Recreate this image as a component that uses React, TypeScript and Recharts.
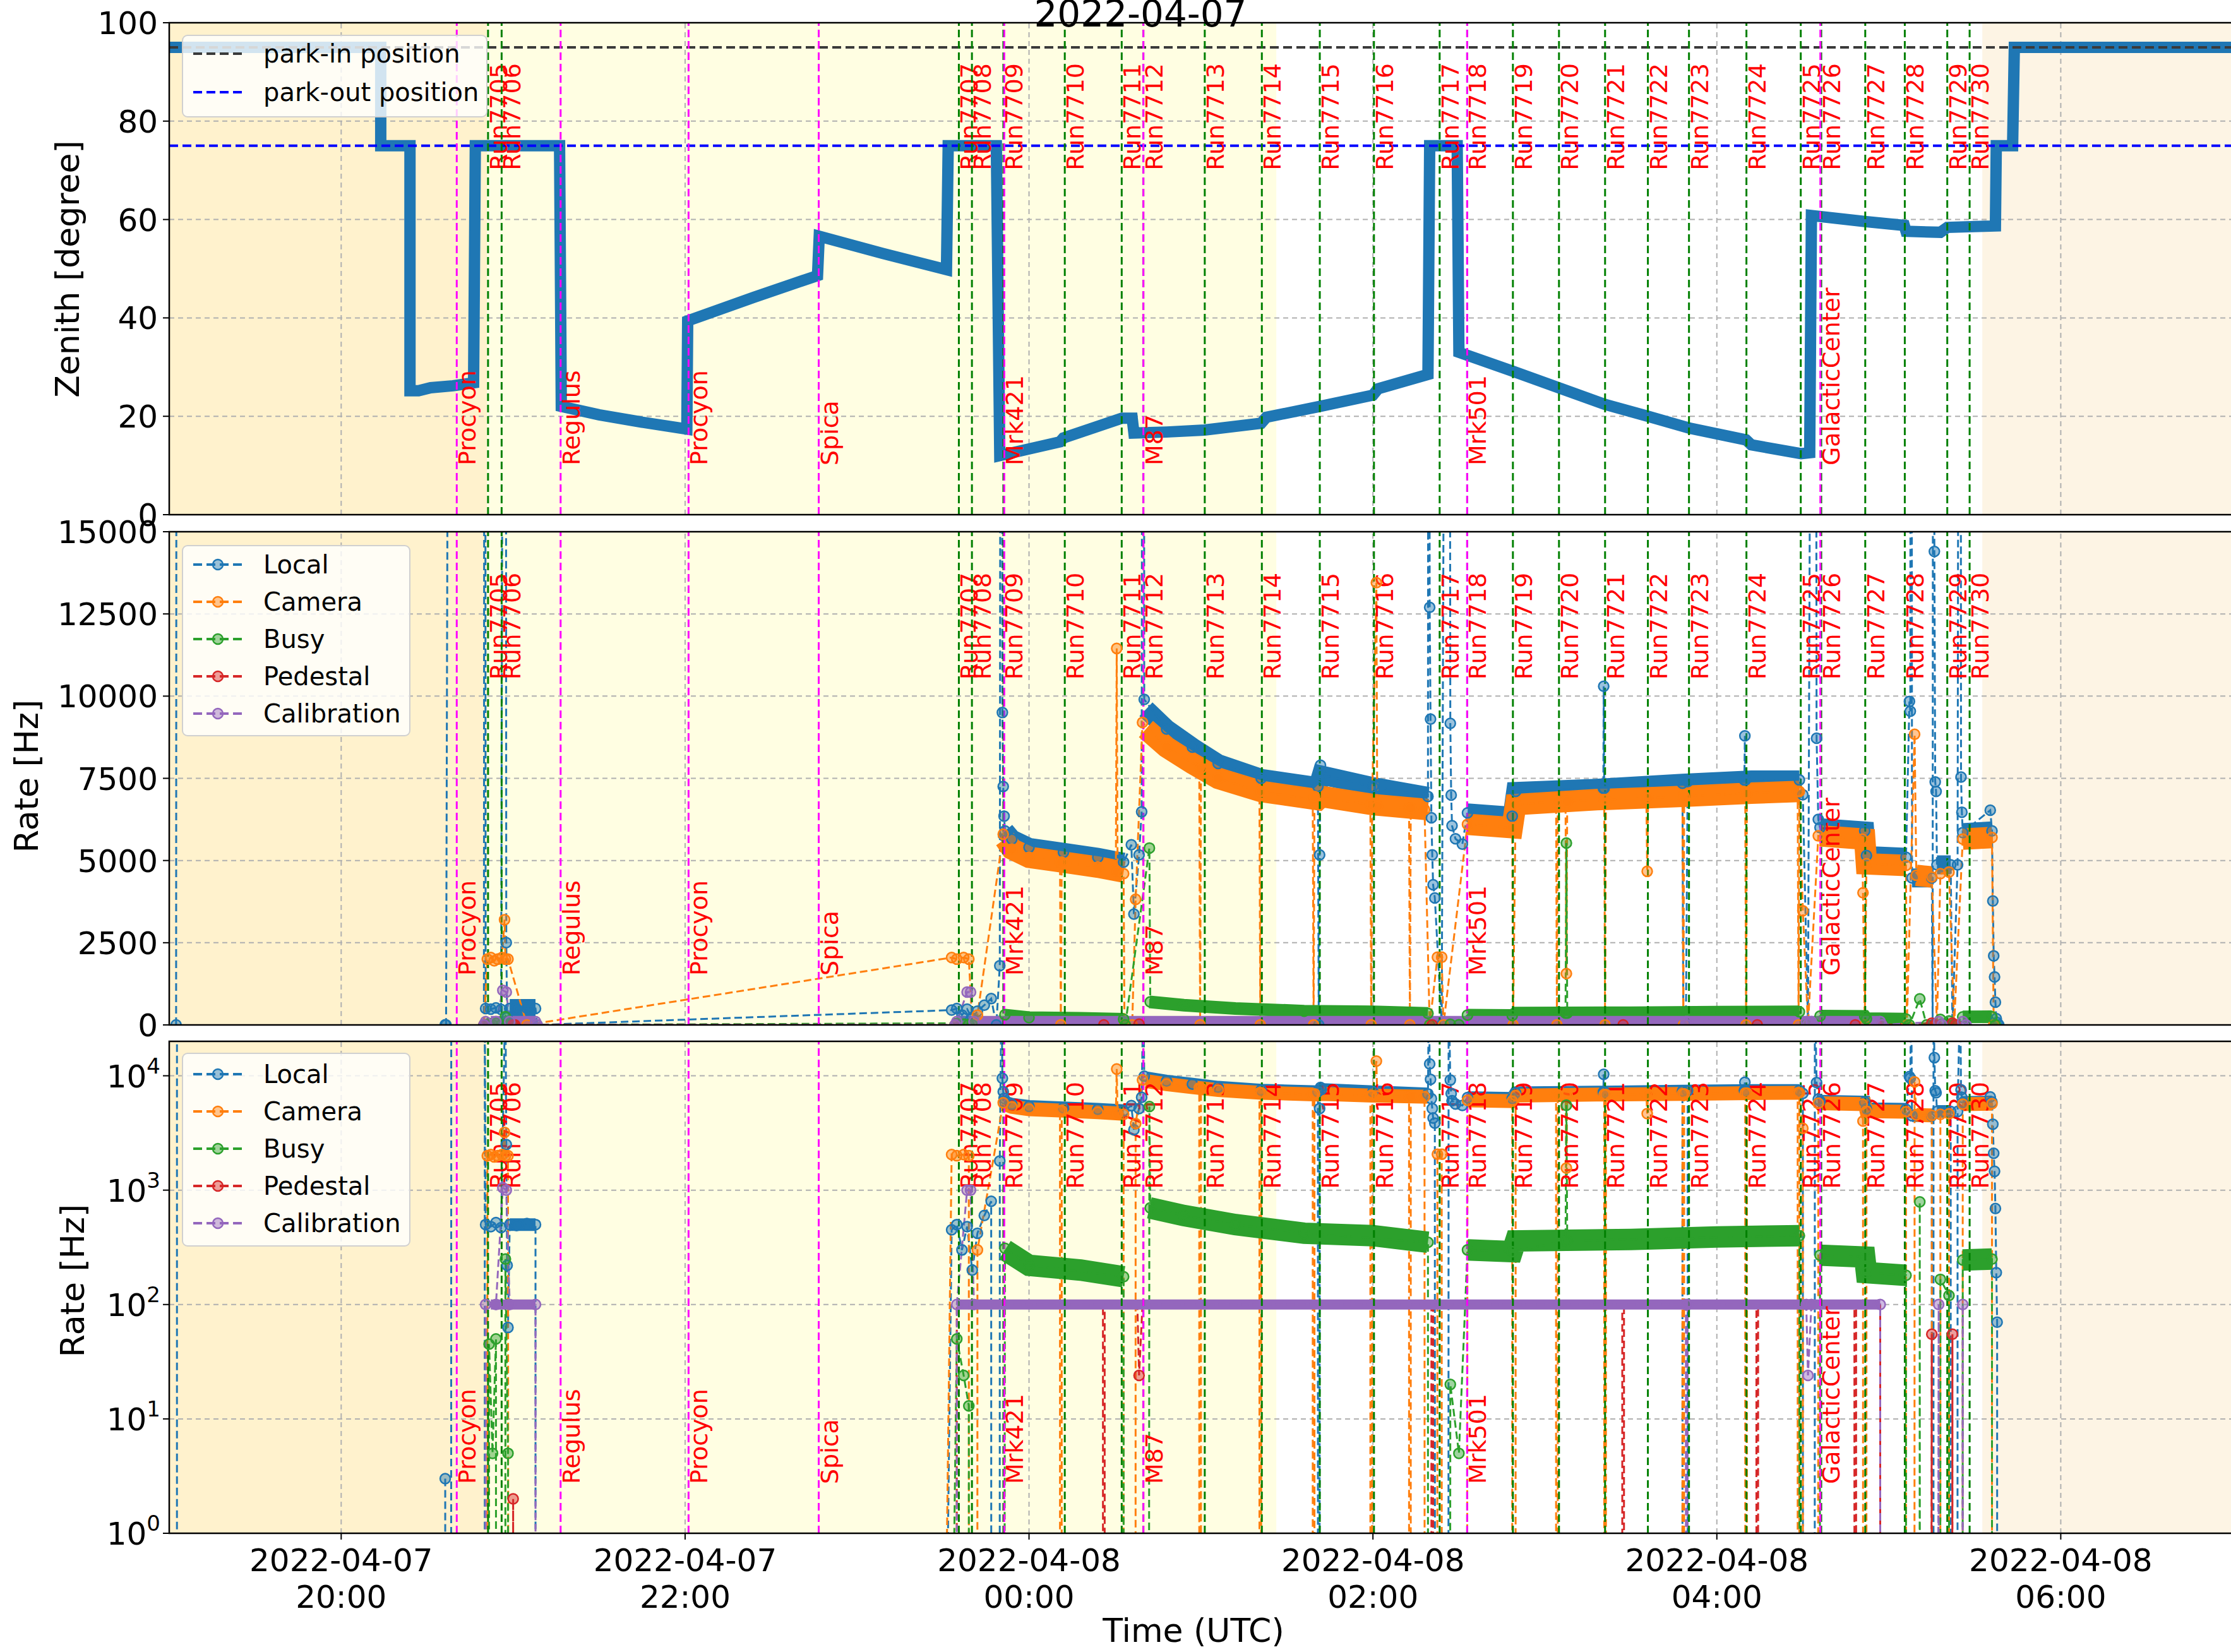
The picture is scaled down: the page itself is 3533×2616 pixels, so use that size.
import React from 'react';
import {
  LineChart,
  Line,
  XAxis,
  YAxis,
  ReferenceLine,
  ReferenceArea,
} from 'recharts';

// time is in hours relative to 2022-04-08 00:00 UTC
type Pt = [number, number | null];

const W = 3533;
const H = 2616;
const AXIS_W = 268;
const FONT = '"DejaVu Sans", sans-serif';

const X_DOMAIN: [number, number] = [-5.0, 6.99];
const TIME_TICKS = [-4, -2, 0, 2, 4, 6];

const SKY_ZONES = [
  { from: -5.0, to: -3.151, color: '#FFF2CD' },
  { from: -3.151, to: 1.438, color: '#FFFEE2' },
  { from: 5.544, to: 7.0, color: '#FDF4E4' },
];

const RUN_NAMES = [
  'Run7705', 'Run7706', 'Run7707', 'Run7708', 'Run7709', 'Run7710', 'Run7711', 'Run7712', 'Run7713',
  'Run7714', 'Run7715', 'Run7716', 'Run7717', 'Run7718', 'Run7719', 'Run7720', 'Run7721', 'Run7722',
  'Run7723', 'Run7724', 'Run7725', 'Run7726', 'Run7727', 'Run7728', 'Run7729', 'Run7730',
];
const RUN_TIMES = [
  -3.146, -3.067, -0.408, -0.332, -0.149, 0.208, 0.539, 0.665, 1.022,
  1.354, 1.691, 2.006, 2.388, 2.548, 2.814, 3.082, 3.35, 3.599,
  3.838, 4.172, 4.488, 4.607, 4.863, 5.093, 5.34, 5.47,
];

const SOURCE_NAMES = ['Procyon', 'Regulus', 'Procyon', 'Spica', 'Mrk421', 'M87', 'Mrk501', 'GalacticCenter'];
const SOURCE_TIMES = [-3.328, -2.724, -1.98, -1.223, -0.144, 0.665, 2.548, 4.602];

const PARK_IN = 95;
const PARK_OUT = 75;

const ZENITH_TICKS = [0, 20, 40, 60, 80, 100];
const RATE_TICKS = [0, 2500, 5000, 7500, 10000, 12500, 15000];
const LOG_TICKS = [1, 10, 100, 1000, 10000];

const zenith: Pt[] = [
  [-5.0, 95], [-3.77, 95], [-3.77, 75], [-3.6, 75], [-3.6, 25.2], [-3.55, 25.2], [-3.48, 25.8], [-3.35, 26.2], [-3.23, 26.8],
  [-3.22, 75], [-2.73, 75], [-2.72, 22], [-2.5, 20.3], [-2.25, 18.8], [-1.99, 17.4],
  [-1.985, 39.4], [-1.6, 44.2], [-1.23, 48.6],
  [-1.22, 56.6], [-0.85, 53.1], [-0.48, 49.8],
  [-0.47, 75], [-0.19, 75], [-0.17, 12], [0.18, 14.8], [0.2, 15.6], [0.54, 19.6], [0.6, 19.6],
  [0.61, 16.6], [0.8, 16.8], [1.02, 17.2], [1.35, 18.6], [1.38, 19.8], [1.69, 22.0], [2.0, 24.3], [2.03, 25.6], [2.32, 28.5],
  [2.33, 75], [2.49, 75], [2.5, 33], [2.81, 29.2], [3.08, 25.8], [3.35, 22.4], [3.6, 20.0], [3.84, 17.6], [4.17, 15.2], [4.2, 14.2], [4.49, 12.4], [4.54, 12.6],
  [4.55, 60.8], [4.86, 59.6], [5.09, 58.8], [5.1, 57.6], [5.3, 57.4], [5.34, 58.4], [5.62, 58.7],
  [5.625, 75], [5.72, 75], [5.73, 95], [7.0, 95],
];

const local: Pt[] = [
  [-4.96, 0], [-4.955, 60000], [-4.95, null],
  [-3.395, 3], [-3.39, 0], [-3.36, 60000], [-3.35, null],
  [-3.17, 0], [-3.165, 60000], [-3.16, 500], [-3.13, 480], [-3.1, 520], [-3.07, 470], [-3.045, 60000], [-3.04, 2500],
  [-3.035, 220], [-3.03, 63], [-3.02, 500], [-2.98, 490], [-2.92, 510], [-2.87, 500], [-2.86, 0],
  [-0.45, 450], [-0.42, 500], [-0.39, 300], [-0.36, 480], [-0.33, 200], [-0.3, 420], [-0.26, 600], [-0.22, 800], [-0.19, 0],
  [-0.17, 1800], [-0.16, 60000], [-0.155, 9500], [-0.15, 7250], [-0.145, 6350], [-0.14, 5900],
  [-0.1, 5650], [0.0, 5400], [0.2, 5250], [0.4, 5100],
  [0.55, 4950], [0.595, 5480], [0.61, 3370], [0.64, 5170], [0.655, 6480], [0.665, 60000], [0.67, 9900],
  [0.8, 9000], [0.95, 8450], [1.1, 7950], [1.35, 7500],
  [1.68, 7250], [1.685, 0], [1.69, 5170], [1.695, 7900], [1.7, 7600], [2.0, 7250],
  [2.32, 6950], [2.325, 60000], [2.33, 12700], [2.335, 9300], [2.34, 6300], [2.345, 5170], [2.35, 4265], [2.36, 3860], [2.4, 0],
  [2.44, 60000], [2.45, 9170], [2.455, 6990], [2.46, 6060], [2.48, 5660], [2.52, 5500], [2.55, 6450],
  [2.81, 6350], [2.83, 7100], [3.34, 7200], [3.342, 10300], [3.345, 7200], [3.8, 7350], [3.805, 0], [3.82, 0], [3.83, 7400],
  [4.16, 7450], [4.163, 8790], [4.166, 7450], [4.48, 7450], [4.5, 7000], [4.53, 0], [4.57, 60000], [4.58, 8720], [4.59, 6250], [4.6, 6000],
  [4.86, 5900], [4.87, 5150], [5.1, 5100], [5.12, 9840], [5.125, 9540], [5.13, 60000], [5.135, 4470], [5.25, 4470], [5.255, 0],
  [5.26, 60000], [5.265, 14400], [5.27, 7390], [5.275, 7100], [5.28, 4870], [5.36, 4870], [5.37, 0], [5.4, 4870], [5.415, 60000],
  [5.42, 7540], [5.425, 6470], [5.43, 5850], [5.59, 6530], [5.6, 5900], [5.605, 3770], [5.61, 2100], [5.615, 1460], [5.62, 690],
  [5.625, 190], [5.63, 70], [5.64, 0],
];

const camera: Pt[] = [
  [-3.17, 0], [-3.15, 2000], [-3.13, 2050], [-3.11, 1950], [-3.09, 2000], [-3.065, 2050], [-3.05, 3200], [-3.045, 2000], [-3.03, 2000], [-2.92, 0],
  [-0.45, 2050], [-0.42, 2000], [-0.38, 2050], [-0.35, 2000], [-0.33, 0], [-0.3, 300], [-0.15, 5800],
  [-0.1, 5350], [0.0, 5100],
  [0.18, 4950], [0.185, 0], [0.19, 4950], [0.4, 4800], [0.505, 4700], [0.51, 11450], [0.515, 4650], [0.55, 4600], [0.555, 0], [0.6, 0], [0.62, 3820], [0.66, 9200],
  [0.8, 8450], [0.99, 7830], [0.995, 0], [1.0, 7800], [1.1, 7500], [1.34, 7100], [1.345, 0], [1.35, 7100], [1.65, 6850], [1.655, 0], [1.66, 6950],
  [1.985, 6700], [1.99, 0], [1.995, 6700], [2.02, 13450], [2.025, 6650], [2.21, 6600], [2.215, 0], [2.22, 6600], [2.3, 6550],
  [2.33, 0], [2.375, 2060], [2.4, 2060], [2.41, 0], [2.55, 6100],
  [2.81, 6000], [2.815, 0], [2.83, 6700], [3.065, 6800], [3.07, 0], [3.075, 6800], [3.12, 6800], [3.125, 1560], [3.13, 6800],
  [3.345, 6850], [3.35, 0], [3.355, 6850], [3.59, 6900], [3.595, 4670], [3.6, 6900], [3.8, 6950], [3.805, 0], [3.81, 6950],
  [4.165, 7050], [4.17, 0], [4.175, 7050], [4.47, 7100], [4.475, 0], [4.48, 7100], [4.5, 3470], [4.53, 0],
  [4.59, 5750], [4.845, 5650], [4.85, 4020], [4.86, 0], [4.87, 4900], [5.1, 4850], [5.105, 0], [5.15, 8840], [5.16, 4550],
  [5.25, 4500], [5.28, 0], [5.3, 4600], [5.35, 4650], [5.38, 0], [5.43, 5650], [5.6, 5700], [5.61, 0],
];

const busy: Pt[] = [
  [-3.17, 0], [-3.14, 45], [-3.12, 5], [-3.1, 50], [-3.07, 0], [-3.045, 250], [-3.03, 5], [-3.0, 0],
  [-0.42, 50], [-0.38, 24], [-0.35, 13], [-0.33, 0],
  [-0.14, 310], [0.0, 220], [0.55, 175], [0.56, 0], [0.7, 5380], [0.705, 700], [0.9, 600], [1.2, 500], [1.6, 420],
  [2.32, 350], [2.33, 0], [2.45, 20], [2.5, 5], [2.55, 300],
  [2.81, 290], [3.12, 360], [3.125, 5530], [3.13, 360], [4.48, 400], [4.52, 0],
  [4.6, 270], [4.86, 260], [4.87, 190], [5.1, 180], [5.12, 0], [5.18, 790], [5.22, 0], [5.3, 166], [5.35, 120], [5.38, 0],
  [5.43, 245], [5.6, 250], [5.62, 0],
];

const pedestal: Pt[] = [
  [-3.17, 0], [-3.0, 2], [-2.99, 0],
  [-0.43, 0], [-0.42, 100], [0.43, 100], [0.435, 0], [0.44, 100], [0.63, 100], [0.64, 24], [0.66, 100],
  [2.34, 100], [2.345, 0], [2.35, 100], [3.45, 100], [3.455, 0], [3.46, 100], [4.23, 100], [4.235, 0], [4.24, 100],
  [4.8, 100], [4.805, 0], [4.81, 100], [4.95, 100], [4.96, 0],
  [5.25, 55], [5.27, 0], [5.37, 55], [5.39, 0],
];

const calibration: Pt[] = [
  [-3.17, 0], [-3.16, 100], [-3.1, 100], [-3.06, 1050], [-3.04, 1000], [-3.02, 100], [-2.87, 100], [-2.86, 0],
  [-0.43, 0], [-0.42, 100], [-0.36, 1000], [-0.34, 1000], [-0.32, 100], [3.82, 100], [3.825, 0], [3.83, 100],
  [4.52, 100], [4.53, 24], [4.55, 100], [4.95, 100], [4.96, 0],
  [5.29, 100], [5.31, 0], [5.43, 100], [5.45, 0],
];

// dense stretches where the markers merge into a thick band
const localBand: Pt[] = [
  [-3.02, 500], [-2.87, 500], [-2.86, null],
  [-0.14, 5900], [-0.1, 5650], [0.0, 5400], [0.2, 5250], [0.4, 5100], [0.55, 4950], [0.56, null],
  [0.68, 9600], [0.8, 9000], [0.95, 8450], [1.1, 7950], [1.35, 7500], [1.68, 7250], [1.7, 7600], [2.0, 7250], [2.32, 6950], [2.33, null],
  [2.55, 6450], [2.81, 6350], [2.83, 7100], [3.3, 7200], [3.8, 7350], [4.2, 7450], [4.48, 7450], [4.49, null],
  [4.6, 6000], [4.86, 5900], [4.87, 5150], [5.1, 5100], [5.11, null], [5.135, 4470], [5.25, 4470], [5.26, null],
  [5.28, 4870], [5.36, 4870], [5.37, null], [5.43, 5850], [5.6, 5900],
];

const cameraBand: Pt[] = [
  [-0.14, 5650], [-0.1, 5350], [0.0, 5100], [0.2, 4950], [0.4, 4800], [0.55, 4650], [0.56, null],
  [0.68, 9000], [0.8, 8450], [0.95, 7950], [1.1, 7500], [1.35, 7100], [1.68, 6850], [1.7, 6950], [2.0, 6700], [2.32, 6550], [2.33, null],
  [2.55, 6100], [2.81, 6000], [2.83, 6700], [3.3, 6850], [3.8, 6950], [4.2, 7050], [4.48, 7100], [4.49, null],
  [4.6, 5750], [4.86, 5650], [4.87, 4900], [5.1, 4850], [5.11, null], [5.16, 4550], [5.25, 4500], [5.26, null],
  [5.43, 5650], [5.6, 5700],
];

const busyBand: Pt[] = [
  [-0.14, 300], [0.0, 220], [0.3, 200], [0.55, 175], [0.56, null],
  [0.7, 700], [0.9, 600], [1.2, 500], [1.6, 420], [2.0, 400], [2.32, 350], [2.33, null],
  [2.55, 300], [2.81, 290], [2.83, 360], [3.5, 370], [4.0, 390], [4.48, 400], [4.49, null],
  [4.6, 270], [4.86, 260], [4.87, 190], [5.1, 180], [5.11, null],
  [5.43, 245], [5.6, 250],
];

const calibBand: Pt[] = [
  [-3.13, 100], [-2.87, 100], [-2.86, null],
  [-0.42, 100], [4.95, 100],
];

// pedestal markers sitting on the calibration level are hidden under it in the original
const PEDESTAL_HIDDEN_LEVEL = 100;

const RATE_SERIES = [
  { name: 'Local', color: '#1f77b4', pts: local, band: localBand, wLin: 30, wLog: 20 },
  { name: 'Camera', color: '#ff7f0e', pts: camera, band: cameraBand, wLin: 34, wLog: 22 },
  { name: 'Busy', color: '#2ca02c', pts: busy, band: busyBand, wLin: 20, wLog: 34 },
  { name: 'Pedestal', color: '#d62728', pts: pedestal, band: null as Pt[] | null, wLin: 0, wLog: 0 },
  { name: 'Calibration', color: '#9467bd', pts: calibration, band: calibBand, wLin: 18, wLog: 16 },
];

const toRows = (pts: Pt[], log = false) =>
  pts.map(([t, v]) => ({ t, v: v === null ? null : log && v <= 0 ? 1e-300 : v }));

const GRID = '#b0b0b0';

const VLabel = (props: any) => {
  const { viewBox, text, frac } = props;
  if (!viewBox) return null;
  const x = viewBox.x + 30;
  const y = viewBox.y + viewBox.height * (1 - frac);
  return (
    <text x={x} y={y} transform={`rotate(-90 ${x} ${y})`} fill="#ff0000" fontSize={38} fontFamily={FONT}>
      {text}
    </text>
  );
};

const NumTick = (props: any) => {
  const { x, y, payload } = props;
  return (
    <text x={x} y={y} dy={18} textAnchor="end" fontSize={50} fill="#000" fontFamily={FONT}>
      {payload.value}
    </text>
  );
};

const LogTick = (props: any) => {
  const { x, y, payload } = props;
  const exp = Math.round(Math.log10(payload.value));
  return (
    <text x={x} y={y} textAnchor="end" fontSize={50} fill="#000" fontFamily={FONT}>
      <tspan dy={18}>10</tspan>
      <tspan dy={-22} fontSize={34}>{exp}</tspan>
    </text>
  );
};

const TimeTick = (props: any) => {
  const { x, y, payload } = props;
  const t = payload.value as number;
  const day = t < 0 ? '2022-04-07' : '2022-04-08';
  const hh = String(((t % 24) + 24) % 24).padStart(2, '0') + ':00';
  return (
    <g>
      <text x={x} y={y + 48} textAnchor="middle" fontSize={50} fill="#000" fontFamily={FONT}>{day}</text>
      <text x={x} y={y + 106} textAnchor="middle" fontSize={50} fill="#000" fontFamily={FONT}>{hh}</text>
    </g>
  );
};

const markerDot = (color: string, hideAt?: number) => (p: any) => {
  const { cx, cy, payload, index } = p;
  if (cx == null || cy == null || payload?.v == null || (hideAt !== undefined && payload.v === hideAt)) {
    return <g key={`d${index}`} />;
  }
  return (
    <circle key={`d${index}`} cx={cx} cy={cy} r={8} fill={color} fillOpacity={0.45} stroke={color} strokeWidth={2.5} />
  );
};

// backgrounds, grid, and the run / source markers shared by every panel
const backdrop = (yTicks: number[]) => [
  ...SKY_ZONES.map((z, i) => (
    <ReferenceArea key={`zone${i}`} x1={z.from} x2={z.to} fill={z.color} fillOpacity={1} stroke="none" ifOverflow="hidden" />
  )),
  ...yTicks.map((v) => (
    <ReferenceLine key={`hg${v}`} y={v} stroke={GRID} strokeDasharray="8 6" strokeWidth={2} />
  )),
  ...TIME_TICKS.map((t) => (
    <ReferenceLine key={`vg${t}`} x={t} stroke={GRID} strokeDasharray="8 6" strokeWidth={2} />
  )),
];

const markers = () => [
  ...RUN_TIMES.map((t, i) => (
    <ReferenceLine
      key={`run${i}`}
      x={t}
      stroke="#008000"
      strokeDasharray="12 6"
      strokeWidth={3}
      label={<VLabel text={RUN_NAMES[i]} frac={0.7} />}
    />
  )),
  ...SOURCE_TIMES.map((t, i) => (
    <ReferenceLine
      key={`src${i}`}
      x={t}
      stroke="#ff00ff"
      strokeDasharray="12 6"
      strokeWidth={3}
      label={<VLabel text={SOURCE_NAMES[i]} frac={0.1} />}
    />
  )),
];

const ZenithPanel = () => (
  <LineChart width={W} height={845} margin={{ top: 36, right: 0, bottom: 30, left: 0 }}>
    <XAxis type="number" dataKey="t" domain={X_DOMAIN} ticks={TIME_TICKS} allowDataOverflow height={0} tick={false} axisLine={false} tickLine={false} />
    <YAxis
      type="number"
      domain={[0, 100]}
      ticks={ZENITH_TICKS}
      allowDataOverflow
      width={AXIS_W}
      tick={<NumTick />}
      tickSize={10}
      tickMargin={8}
      tickLine={{ stroke: '#000', strokeWidth: 2 }}
      axisLine={false}
    />
    {backdrop(ZENITH_TICKS)}
    <Line
      data={toRows(zenith)}
      dataKey="v"
      stroke="#1f77b4"
      strokeWidth={18}
      dot={false}
      activeDot={false}
      isAnimationActive={false}
    />
    <ReferenceLine y={PARK_IN} stroke="#3a3a3a" strokeDasharray="14 7" strokeWidth={4} />
    <ReferenceLine y={PARK_OUT} stroke="#0000ff" strokeDasharray="14 7" strokeWidth={4} />
    {markers()}
  </LineChart>
);

const RatePanel = ({ log }: { log: boolean }) => {
  const yTicks = log ? LOG_TICKS : RATE_TICKS;
  return (
    <LineChart
      width={W}
      height={log ? 997 : 841}
      margin={{ top: 30, right: 0, bottom: log ? 0 : 30, left: 0 }}
    >
      {log ? (
        <XAxis
          type="number"
          dataKey="t"
          domain={X_DOMAIN}
          ticks={TIME_TICKS}
          allowDataOverflow
          height={188}
          tick={<TimeTick />}
          tickSize={10}
          tickLine={{ stroke: '#000', strokeWidth: 2 }}
          axisLine={false}
        />
      ) : (
        <XAxis type="number" dataKey="t" domain={X_DOMAIN} ticks={TIME_TICKS} allowDataOverflow height={0} tick={false} axisLine={false} tickLine={false} />
      )}
      {log ? (
        <YAxis
          type="number"
          scale="log"
          domain={[1, 20000]}
          ticks={LOG_TICKS}
          allowDataOverflow
          width={AXIS_W}
          tick={<LogTick />}
          tickSize={10}
          tickMargin={4}
          tickLine={{ stroke: '#000', strokeWidth: 2 }}
          axisLine={false}
        />
      ) : (
        <YAxis
          type="number"
          domain={[0, 15000]}
          ticks={RATE_TICKS}
          allowDataOverflow
          width={AXIS_W}
          tick={<NumTick />}
          tickSize={10}
          tickMargin={8}
          tickLine={{ stroke: '#000', strokeWidth: 2 }}
          axisLine={false}
        />
      )}
      {backdrop(yTicks)}
      {RATE_SERIES.flatMap((s) => {
        const items = [];
        if (s.band) {
          items.push(
            <Line
              key={`${s.name}-band`}
              data={toRows(s.band, log)}
              dataKey="v"
              stroke={s.color}
              strokeWidth={log ? s.wLog : s.wLin}
              dot={false}
              activeDot={false}
              isAnimationActive={false}
            />,
          );
        }
        items.push(
          <Line
            key={`${s.name}-pts`}
            data={toRows(s.pts, log)}
            dataKey="v"
            stroke={s.color}
            strokeWidth={3}
            strokeDasharray="12 6"
            dot={markerDot(s.color, s.name === 'Pedestal' ? PEDESTAL_HIDDEN_LEVEL : undefined)}
            activeDot={false}
            isAnimationActive={false}
          />,
        );
        return items;
      })}
      {markers()}
    </LineChart>
  );
};

const LegendBox = ({ x, y, w, h, items, markers: withMarkers }: any) => (
  <g>
    <rect x={x} y={y} width={w} height={h} rx={8} fill="#ffffff" fillOpacity={0.8} stroke="#d0d0d0" strokeWidth={2} />
    {items.map((it: any, i: number) => {
      const cy = y + it.dy;
      return (
        <g key={i}>
          <line x1={x + 17} x2={x + 94} y1={cy} y2={cy} stroke={it.color} strokeWidth={4} strokeDasharray="14 7" />
          {withMarkers && (
            <circle cx={x + 56} cy={cy} r={8} fill={it.color} fillOpacity={0.45} stroke={it.color} strokeWidth={2.5} />
          )}
          <text x={x + 128} y={cy + 14} fontSize={40} fill="#000" fontFamily={FONT}>{it.label}</text>
        </g>
      );
    })}
  </g>
);

const rateLegendItems = (gap: number, first: number) =>
  RATE_SERIES.map((s, i) => ({ label: s.name, color: s.color, dy: first + i * gap }));

export default function App() {
  return (
    <div style={{ position: 'absolute', left: 0, top: 0, width: W, height: H, overflow: 'hidden', background: '#fff', fontFamily: FONT }}>
      <div style={{ position: 'absolute', left: 0, top: 0 }}>
        <ZenithPanel />
      </div>
      <div style={{ position: 'absolute', left: 0, top: 812 }}>
        <RatePanel log={false} />
      </div>
      <div style={{ position: 'absolute', left: 0, top: 1619 }}>
        <RatePanel log />
      </div>
      <svg width={W} height={H} style={{ position: 'absolute', left: 0, top: 0, pointerEvents: 'none' }}>
        <rect x={AXIS_W} y={36} width={3400} height={779} fill="none" stroke="#000" strokeWidth={2.5} />
        <rect x={AXIS_W} y={842} width={3400} height={781} fill="none" stroke="#000" strokeWidth={2.5} />
        <rect x={AXIS_W} y={1649} width={3400} height={779} fill="none" stroke="#000" strokeWidth={2.5} />
        <text x={1806} y={42} textAnchor="middle" fontSize={58} fill="#000" fontFamily={FONT}>2022-04-07</text>
        <text x={107} y={426} transform="rotate(-90 107 426)" textAnchor="middle" dominantBaseline="central" fontSize={52} fill="#000" fontFamily={FONT}>Zenith [degree]</text>
        <text x={42} y={1229} transform="rotate(-90 42 1229)" textAnchor="middle" dominantBaseline="central" fontSize={52} fill="#000" fontFamily={FONT}>Rate [Hz]</text>
        <text x={115} y={2028} transform="rotate(-90 115 2028)" textAnchor="middle" dominantBaseline="central" fontSize={52} fill="#000" fontFamily={FONT}>Rate [Hz]</text>
        <text x={1890} y={2600} textAnchor="middle" fontSize={52} fill="#000" fontFamily={FONT}>Time (UTC)</text>
        <LegendBox
          x={289}
          y={56}
          w={482}
          h={129}
          items={[
            { label: 'park-in position', color: '#3a3a3a', dy: 29 },
            { label: 'park-out position', color: '#0000ff', dy: 90 },
          ]}
        />
        <LegendBox x={289} y={864} w={360} h={301} markers items={rateLegendItems(59, 30)} />
        <LegendBox x={289} y={1668} w={360} h={305} markers items={rateLegendItems(59, 33)} />
      </svg>
    </div>
  );
}
